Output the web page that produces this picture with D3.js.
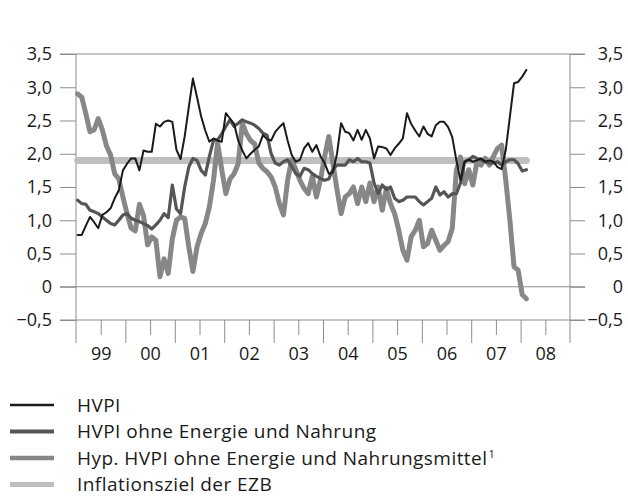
<!DOCTYPE html>
<meta charset="utf-8">

<style type="text/css">
body {
    margin: 0;
    background: #fff;
}

/* lines of the chart */
.series {
    fill: none;
    stroke-linejoin: round;
    stroke-linecap: round;
}

.frame {
    stroke: #8c8c8c;
    stroke-width: 1;
}

.axis path {
    display: none;
}

.axis line {
    stroke: #8c8c8c;
}

.axis text, .legend text {
    fill: #1a1a1a;
}
</style>
<body>
</body>

<script src="https://d3js.org/d3.v7.min.js"></script>
<script>

// monthly values, Jan 1999 to Feb 2008 (in %)
var hvpi = [
  0.78, 0.78, 0.92, 1.05, 0.97, 0.88, 1.08, 1.12, 1.18, 1.33, 1.45, 1.75,
  1.85, 1.93, 1.93, 1.75, 2.05, 2.03, 2.03, 2.45, 2.41, 2.48, 2.50, 2.48,
  2.06, 1.92, 2.26, 2.70, 3.13, 2.85, 2.56, 2.35, 2.18, 2.23, 2.20, 2.18,
  2.61, 2.53, 2.45, 2.20, 2.05, 1.93, 2.00, 2.06, 2.11, 2.28, 2.22, 2.20,
  2.33, 2.40, 2.46, 2.20, 1.98, 1.88, 1.91, 2.08, 2.16, 2.03, 2.13, 1.96,
  1.86, 1.70, 1.72, 2.00, 2.46, 2.33, 2.31, 2.20, 2.36, 2.21, 2.36, 2.23,
  1.93, 2.11, 2.10, 2.08, 1.98, 2.08, 2.15, 2.23, 2.61, 2.45, 2.35, 2.26,
  2.41, 2.30, 2.26, 2.43, 2.48, 2.48, 2.40, 2.25, 1.90, 1.60, 1.88, 1.91,
  1.88, 1.90, 1.93, 1.88, 1.90, 1.88, 1.80, 1.77, 2.06, 2.56, 3.06, 3.08,
  3.16, 3.26
];

var kern = [
  1.30, 1.25, 1.24, 1.15, 1.13, 1.10, 1.05, 1.00, 0.95, 0.93, 1.00, 1.08,
  1.10, 1.03, 1.00, 0.98, 0.95, 0.92, 0.87, 0.93, 1.00, 1.10, 1.04, 1.53,
  1.17, 1.10, 1.50, 1.80, 1.93, 1.90, 1.75, 1.68, 1.96, 2.20, 2.21, 2.30,
  2.41, 2.51, 2.41, 2.46, 2.51, 2.48, 2.46, 2.43, 2.38, 2.31, 2.28, 2.00,
  1.86, 1.83, 1.88, 1.91, 1.81, 1.70, 1.66, 1.78, 1.76, 1.70, 1.66, 1.63,
  1.60, 1.62, 1.76, 1.83, 1.83, 1.83, 1.91, 1.88, 1.93, 1.88, 1.88, 1.86,
  1.56, 1.40, 1.53, 1.46, 1.50, 1.33, 1.28, 1.30, 1.35, 1.35, 1.35, 1.28,
  1.23, 1.28, 1.33, 1.50, 1.38, 1.43, 1.35, 1.40, 1.40, 1.56, 1.88, 1.91,
  1.96, 1.93, 1.91, 1.88, 1.86, 1.86, 1.88, 1.83, 1.88, 1.91, 1.91, 1.85,
  1.74, 1.76
];

var hyp = [
  2.90, 2.85, 2.60, 2.33, 2.36, 2.53, 2.36, 2.12, 1.98, 1.70, 1.62, 1.35,
  1.10, 0.88, 0.84, 1.24, 1.07, 0.63, 0.75, 0.70, 0.15, 0.42, 0.20, 0.72,
  1.00, 1.05, 1.03, 0.60, 0.23, 0.60, 0.80, 0.95, 1.20, 1.60, 2.16, 1.76,
  1.40, 1.62, 1.70, 1.85, 2.46, 2.30, 2.20, 2.15, 1.86, 1.78, 1.73, 1.65,
  1.50, 1.25, 1.08, 1.60, 1.91, 1.76, 1.60, 1.48, 1.40, 1.66, 1.35, 1.61,
  1.96, 2.26, 1.86, 1.46, 1.10, 1.35, 1.40, 1.50, 1.25, 1.50, 1.28, 1.56,
  1.28, 1.50, 1.15, 1.48, 1.25, 1.10, 0.85, 0.55, 0.40, 0.75, 0.85, 1.00,
  0.60, 0.65, 0.85, 0.70, 0.55, 0.62, 0.68, 0.88, 1.75, 1.95, 1.55, 1.76,
  1.53, 1.88, 1.83, 1.93, 1.83, 1.96, 2.08, 2.13, 1.60, 1.00, 0.30, 0.25,
  -0.12, -0.18
];

// ECB target
var ziel = 1.9;

var yTicks = [-0.5, 0, 0.5, 1, 1.5, 2, 2.5, 3, 3.5];
var yLabels = ["\u22120,5", "0", "0,5", "1,0", "1,5", "2,0", "2,5", "3,0", "3,5"];
var yearLabels = ["99", "00", "01", "02", "03", "04", "05", "06", "07", "08"];
var legendNames = [
  "HVPI",
  "HVPI ohne Energie und Nahrung",
  "Hyp. HVPI ohne Energie und Nahrungsmittel",
  "Inflationsziel der EZB"
];
var legendNotes = ["", "", "1", ""];

var fontFamily = "'Open Sans', sans-serif";

var svg = d3.select("body").append("svg")
    .attr("width", 628)
    .attr("height", 497);

// months since Jan 1999 -> x, percent -> y
var xScale = d3.scaleLinear()
    .domain([0, 120])
    .range([76, 570]);

var yScale = d3.scaleLinear()
    .domain([-0.5, 3.5])
    .range([320, 54]);

// left axis (ticks 16px to the left)
var yAxisLeft = svg.append("g")
    .attr("class", "axis")
    .attr("transform", "translate(" + xScale(0) + ",0)")
    .call(d3.axisLeft(yScale)
        .tickValues(yTicks)
        .tickSize(16)
        .tickPadding(8)
        .tickFormat(function(d, i) { return yLabels[i]; }));

// right axis, labels right aligned at the edge
var yAxisRight = svg.append("g")
    .attr("class", "axis")
    .attr("transform", "translate(" + xScale(120) + ",0)")
    .call(d3.axisRight(yScale)
        .tickValues(yTicks)
        .tickSize(15)
        .tickFormat(function(d, i) { return yLabels[i]; }));

yAxisRight.selectAll("text")
    .attr("x", 53)
    .attr("text-anchor", "end");

svg.selectAll(".axis")
    .attr("font-family", fontFamily)
    .attr("font-size", 18);

// full width lines at 3,5 / 0 / -0,5
svg.selectAll(".hline")
    .data([3.5, 0, -0.5])
  .enter().append("line")
    .attr("class", "frame")
    .attr("x1", xScale(0) - 16)
    .attr("x2", xScale(120) + 15)
    .attr("y1", function(d) { return yScale(d); })
    .attr("y2", function(d) { return yScale(d); });

// vertical frame lines
svg.selectAll(".vline")
    .data([0, 120])
  .enter().append("line")
    .attr("class", "frame")
    .attr("x1", function(d) { return xScale(d); })
    .attr("x2", function(d) { return xScale(d); })
    .attr("y1", yScale(3.5))
    .attr("y2", yScale(-0.5) + 23);

// x ticks every half year, year boundaries longer
var xAxis = svg.append("g")
    .attr("class", "axis")
    .attr("transform", "translate(0," + yScale(-0.5) + ")")
    .call(d3.axisBottom(xScale)
        .tickValues(d3.range(6, 120, 6))
        .tickSize(23)
        .tickFormat(""));

xAxis.selectAll(".tick line")
    .attr("y2", function(d) { return d % 12 === 0 ? 23 : 15; });

// year labels in the middle of each year
var xLabels = svg.append("g")
    .attr("class", "axis")
    .attr("transform", "translate(0," + yScale(-0.5) + ")")
    .call(d3.axisBottom(xScale)
        .tickValues(d3.range(6, 120, 12))
        .tickSize(0)
        .tickPadding(27)
        .tickFormat(function(d, i) { return yearLabels[i]; }))
    .attr("font-family", fontFamily)
    .attr("font-size", 18);

// line generator, points sit a bit into each month
var line = d3.line()
    .x(function(d, i) { return xScale(i + 0.4); })
    .y(function(d) { return yScale(d); });

var series = [
  {values: hvpi.map(function() { return ziel; }), color: "#bfbfbf", width: 7, cap: "butt"},
  {values: hyp, color: "#878787", width: 5, cap: "round"},
  {values: kern, color: "#555555", width: 3.2, cap: "round"},
  {values: hvpi, color: "#1a1a1a", width: 2, cap: "round"}
];

svg.selectAll(".series")
    .data(series)
  .enter().append("path")
    .attr("class", "series")
    .attr("d", function(d) { return line(d.values); })
    .attr("stroke", function(d) { return d.color; })
    .attr("stroke-width", function(d) { return d.width; })
    .attr("stroke-linecap", function(d) { return d.cap; });

// legend
var legendStyle = [
  {color: "#1a1a1a", width: 2.5},
  {color: "#555555", width: 4},
  {color: "#878787", width: 4.5},
  {color: "#bfbfbf", width: 5}
];

var legend = svg.append("g")
    .attr("class", "legend")
  .selectAll("g")
    .data(legendNames)
  .enter().append("g")
    .attr("transform", function(d, i) { return "translate(0," + (411.5 + i * 26.5) + ")"; });

legend.append("line")
    .attr("x1", 10)
    .attr("x2", 54)
    .attr("y1", -6.5)
    .attr("y2", -6.5)
    .attr("stroke", function(d, i) { return legendStyle[i].color; })
    .attr("stroke-width", function(d, i) { return legendStyle[i].width; });

var legendText = legend.append("text")
    .attr("x", 77)
    .attr("font-family", fontFamily)
    .attr("font-size", 19)
    .attr("letter-spacing", 0.45)
    .text(function(d) { return d; });

// footnote mark as small raised digit
legendText.append("tspan")
    .attr("font-size", 11)
    .attr("dy", -7)
    .attr("dx", 1)
    .text(function(d, i) { return legendNotes[i]; });

</script>
